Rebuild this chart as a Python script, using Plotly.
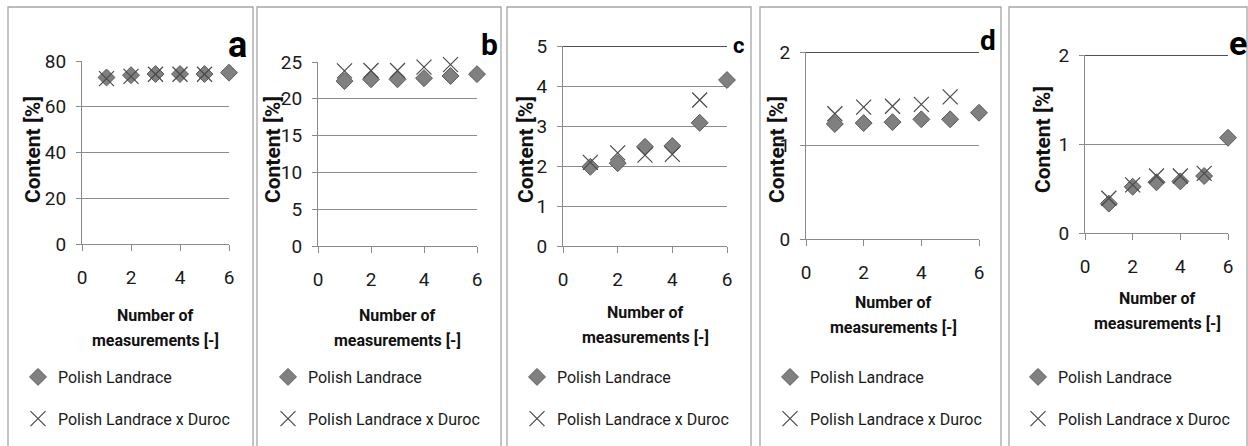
import plotly.graph_objects as go

W, H = 1248, 446

# ---- data ----
x_pl = [1, 2, 3, 4, 5, 6]
x_pld = [1, 2, 3, 4, 5]
series_names = ["Polish Landrace", "Polish Landrace x Duroc"]
panel_labels = ["a", "b", "c", "d", "e"]

a_pl = [72.8, 73.8, 74.3, 74.3, 74.3, 74.9]
a_pld = [72.3, 73.3, 74.2, 74.2, 74.2]
b_pl = [22.4, 22.65, 22.65, 22.8, 23.1, 23.35]
b_pld = [23.8, 23.85, 23.85, 24.3, 24.65]
c_pl = [1.98, 2.07, 2.48, 2.5, 3.08, 4.15]
c_pld = [2.09, 2.33, 2.27, 2.29, 3.65]
d_pl = [1.23, 1.24, 1.25, 1.28, 1.28, 1.35]
d_pld = [1.34, 1.41, 1.42, 1.44, 1.52]
e_pl = [0.33, 0.52, 0.57, 0.58, 0.64, 1.07]
e_pld = [0.39, 0.54, 0.64, 0.64, 0.67]

y_max = [80, 25, 5, 2, 2]
y_dtick = [20, 5, 1, 1, 1]
x_ticks = [0, 2, 4, 6]

pl_series = [a_pl, b_pl, c_pl, d_pl, e_pl]
pld_series = [a_pld, b_pld, c_pld, d_pld, e_pld]

# ---- layout geometry (pixels) ----
plot_px = [  # x0, x1, ytop, ybottom
    (82, 229, 61, 244),
    (318, 477, 62, 246),
    (563, 727, 46, 246),
    (806, 979, 52, 239),
    (1085, 1228, 55, 233),
]
border_px = [(8, 253), (257, 501), (507, 751), (760, 1001), (1009, 1247)]
ytitle_x = [33, 273, 526, 777, 1043]
ytitle_y = [150, 150, 150, 150, 140]
xtitle = [(155, 315), (397, 315), (645, 312), (893, 302), (1157, 298)]
legend_pos = [(18, 360), (268, 360), (517, 360), (770, 360), (1018, 360)]
label_pos = [(237, 45, 36), (489, 45, 30), (738, 46, 22), (988, 40, 28), (1238, 43, 34)]
dark_top = [False, False, True, True, True]

FONT = "Roboto, DejaVu Sans, sans-serif"
GRID = "#8c8c8c"
AXIS = "#8a8a8a"

fig = go.Figure()
layout = dict(
    width=W, height=H, autosize=False,
    margin=dict(l=0, r=0, t=0, b=0, pad=0, autoexpand=False),
    paper_bgcolor="white", plot_bgcolor="white",
    font=dict(family=FONT, size=16, color="#1a1a1a"),
    showlegend=True,
)
shapes = []
annotations = []

for i in range(5):
    n = "" if i == 0 else str(i + 1)
    x0, x1, yt, yb = plot_px[i]
    leg = "legend" if i == 0 else f"legend{i + 1}"
    fig.add_trace(go.Scatter(
        x=x_pl, y=pl_series[i], mode="markers", name=series_names[0],
        xaxis="x" + n, yaxis="y" + n, legend=leg, legendgroup=f"g{i}a",
        marker=dict(symbol="diamond", size=13, color="#808080",
                    line=dict(color="#5a5a5a", width=1)),
        cliponaxis=False,
    ))
    fig.add_trace(go.Scatter(
        x=x_pld, y=pld_series[i], mode="markers", name=series_names[1],
        xaxis="x" + n, yaxis="y" + n, legend=leg, legendgroup=f"g{i}b",
        marker=dict(symbol="x-thin", size=15, color="#4a4a4a",
                    line=dict(color="#4a4a4a", width=1.2)),
        cliponaxis=False,
    ))
    layout["xaxis" + n] = dict(
        domain=[x0 / W, x1 / W], anchor="y" + n, range=[0, 6],
        tickvals=x_ticks, ticks="outside", ticklen=6, tickcolor=AXIS,
        showline=True, linecolor=AXIS, linewidth=1, showgrid=False,
        zeroline=False, ticklabelstandoff=10,
        tickfont=dict(family=FONT, size=19, color="#1a1a1a"),
    )
    layout["yaxis" + n] = dict(
        domain=[1 - yb / H, 1 - yt / H], anchor="x" + n,
        range=[0, y_max[i]], dtick=y_dtick[i], tick0=0,
        ticks="outside", ticklen=5, tickcolor=AXIS,
        showline=True, linecolor=AXIS, linewidth=1,
        showgrid=True, gridcolor=GRID, gridwidth=1, zeroline=False,
        ticklabelstandoff=6,
        tickfont=dict(family=FONT, size=19, color="#1a1a1a"),
    )
    layout[leg] = dict(
        x=legend_pos[i][0] / W, y=1 - legend_pos[i][1] / H,
        xanchor="left", yanchor="top", bgcolor="rgba(0,0,0,0)",
        font=dict(family=FONT, size=16, color="#1a1a1a"),
        tracegroupgap=18, itemwidth=30,
    )
    if dark_top[i]:
        shapes.append(dict(type="line", xref="x" + n, yref="y" + n,
                           x0=0, x1=6, y0=y_max[i], y1=y_max[i],
                           line=dict(color="#505050", width=2)))
    bx0, bx1 = border_px[i]
    shapes.append(dict(type="rect", xref="paper", yref="paper",
                       x0=bx0 / W, x1=bx1 / W, y0=-0.01, y1=1 - 7 / H,
                       line=dict(color="#a6a6a6", width=1.3)))
    annotations.append(dict(
        text="<b>Content [%]</b>", textangle=-90, xref="paper", yref="paper",
        x=ytitle_x[i] / W, y=1 - ytitle_y[i] / H, showarrow=False,
        xanchor="center", yanchor="middle",
        font=dict(family=FONT, size=21, color="#111111")))
    for line_text, dy in (("Number of", 0), ("measurements [-]", 25)):
        annotations.append(dict(
            text=f"<b>{line_text}</b>", xref="paper", yref="paper",
            x=xtitle[i][0] / W, y=1 - (xtitle[i][1] + dy) / H, showarrow=False,
            xanchor="center", yanchor="middle",
            font=dict(family=FONT, size=16, color="#111111")))
    lx, ly, ls = label_pos[i]
    annotations.append(dict(
        text=f"<b>{panel_labels[i]}</b>", xref="paper", yref="paper",
        x=lx / W, y=1 - ly / H, showarrow=False,
        xanchor="center", yanchor="middle",
        font=dict(family=FONT, size=ls, color="#000000")))

layout["shapes"] = shapes
layout["annotations"] = annotations
fig.update_layout(**layout)
fig.write_html(
    "out.html",
    config={"responsive": False, "displayModeBar": False},
    post_script=(
        "document.documentElement.style.margin='0';"
        "document.documentElement.style.overflow='hidden';"
        "document.body.style.margin='0';"
        "document.body.style.padding='0';"
        "document.body.style.overflow='hidden';"
    ),
)
